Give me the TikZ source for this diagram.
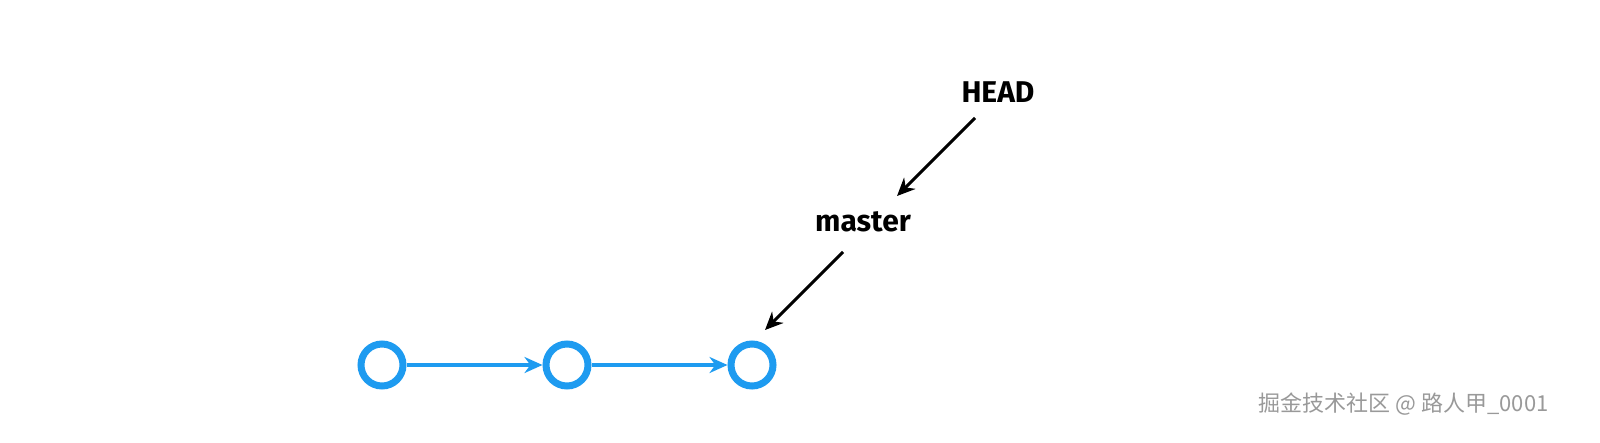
\documentclass[tikz,border=0pt]{standalone}
\usepackage{fontspec}
\setmainfont{Fira Sans}
\newfontfamily\cjk{Noto Sans CJK SC}
\usetikzlibrary{arrows.meta}
\definecolor{cblue}{HTML}{1E9BF0}
\begin{document}
\begin{tikzpicture}[x=1pt,y=-1pt,
  commit/.style={circle,draw=cblue,line width=7pt,minimum size=42pt,inner sep=0pt},
  link/.style={cblue,line width=4pt,-{Stealth[length=18pt,width=16pt]}},
  ptr/.style={black,line width=3pt,-{Stealth[length=18pt,width=16pt]}},
  lbl/.style={font=\bfseries\fontsize{30}{36}\selectfont,inner sep=0pt}]
\useasboundingbox (0,0) rectangle (1600,442);
\node[commit] (c1) at (382,365) {};
\node[commit] (c2) at (567,365) {};
\node[commit] (c3) at (752,365) {};
\draw[link] (c1) -- (c2);
\draw[link] (c2) -- (c3);
\node[lbl] (head) at (998,92) {HEAD};
\node[lbl] (master) at (863,222) {master};
\coordinate (h1) at (975,118);
\coordinate (h2) at (897,196);
\coordinate (m1) at (843,252);
\coordinate (m2) at (765,330);
\draw[ptr] (h1) -- (h2);
\draw[ptr] (m1) -- (m2);
\node[font=\cjk\fontsize{22}{26}\selectfont,text=gray!80,anchor=east] (wm) at (1552,404) {掘金技术社区 @ 路人甲\_0001};
\end{tikzpicture}
\end{document}
